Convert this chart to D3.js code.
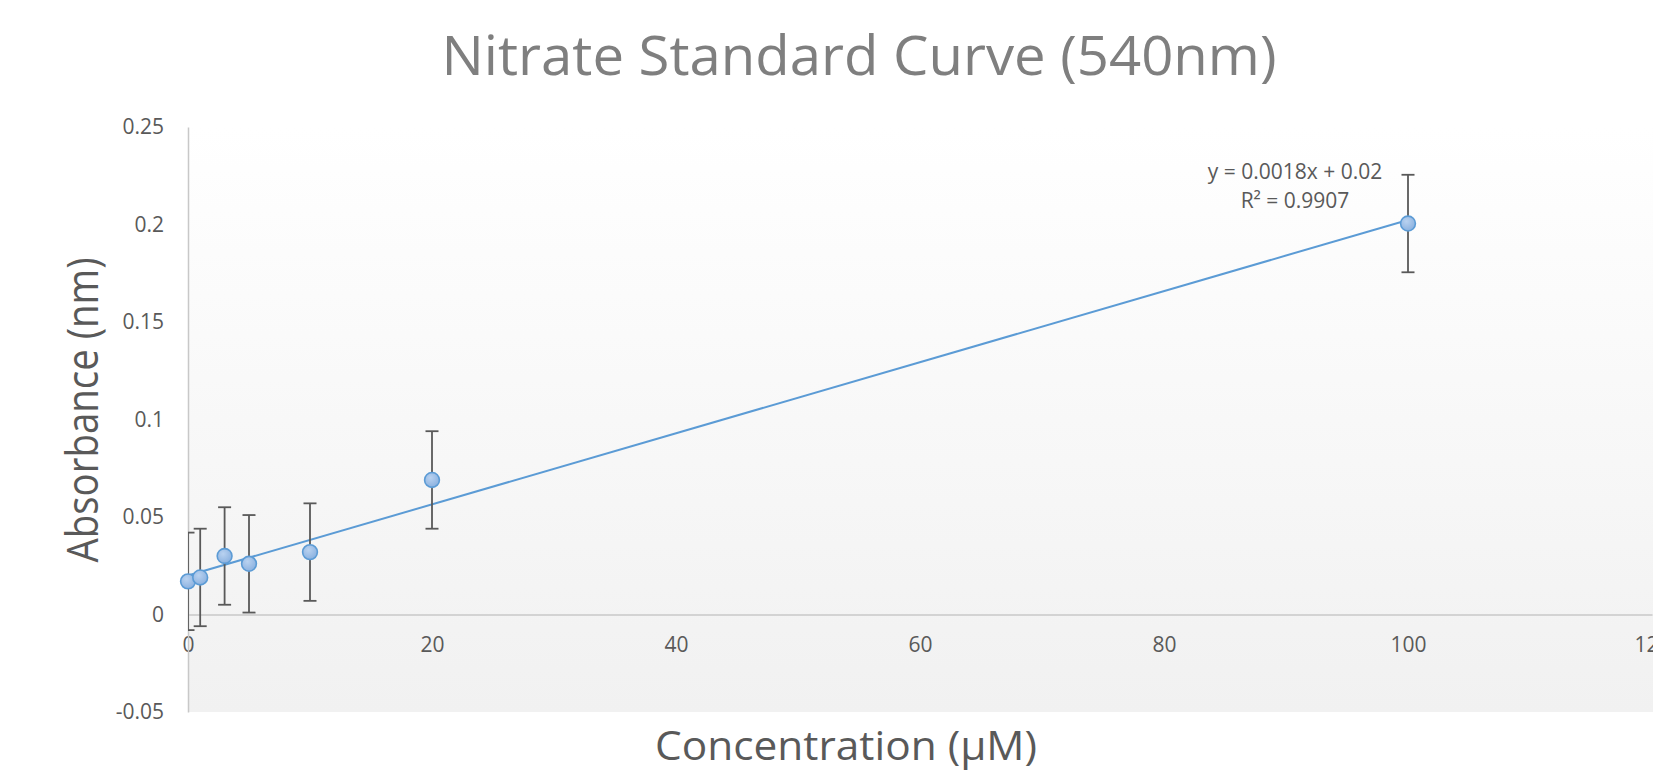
<!DOCTYPE html>
<html>
<head>
<meta charset="utf-8">
<script src="https://cdn.jsdelivr.net/npm/d3@7"></script>
<style>
	body { margin: 0; background: #ffffff; }
	text { font-family: "Open Sans", "Noto Sans", sans-serif; }
</style>
</head>
<body>
<script>
// values
var concentration = [0, 1, 3, 5, 10, 20, 100];
var absorbance = [0.017, 0.019, 0.030, 0.026, 0.032, 0.069, 0.2005];
var errorBars = [0.025, 0.025, 0.025, 0.025, 0.025, 0.025, 0.025];

var xTicks = [0, 20, 40, 60, 80, 100, 120];
var yTicks = [-0.05, 0, 0.05, 0.1, 0.15, 0.2, 0.25];
var yTickLabels = ["-0.05", "0", "0.05", "0.1", "0.15", "0.2", "0.25"];

var trendLabel = ["y = 0.0018x + 0.02", "R\u00b2 = 0.9907"];

function generateViz() {
	var width = 1653,
		height = 777;

	var svg = d3.select("body")
				.append("svg")
				.attr("width", width)
				.attr("height", height);

	var xScale = d3.scaleLinear().domain([0, 120]).range([188, 1652]);
	var yScale = d3.scaleLinear().domain([-0.05, 0.25]).range([712, 127]);

	var defs = svg.append("defs");

	// plot area fill: white at the top fading to light grey
	var bg = defs.append("linearGradient")
		.attr("id", "plotbg")
		.attr("x1", 0).attr("y1", 0)
		.attr("x2", 0).attr("y2", 1);
	bg.append("stop").attr("offset", "0%").attr("stop-color", "#ffffff");
	bg.append("stop").attr("offset", "100%").attr("stop-color", "#f1f1f1");

	var dot = defs.append("radialGradient")
		.attr("id", "dotfill")
		.attr("cx", "40%").attr("cy", "35%").attr("r", "65%");
	dot.append("stop").attr("offset", "0%").attr("stop-color", "#b9d2f0");
	dot.append("stop").attr("offset", "100%").attr("stop-color", "#8cb2e0");

	defs.append("clipPath")
		.attr("id", "plotclip")
		.append("rect")
		.attr("x", xScale(0))
		.attr("y", yScale(0.25))
		.attr("width", width - xScale(0))
		.attr("height", yScale(-0.05) - yScale(0.25));

	svg.append("rect")
		.attr("x", xScale(0))
		.attr("y", yScale(0.25))
		.attr("width", width - xScale(0))
		.attr("height", yScale(-0.05) - yScale(0.25))
		.style("fill", "url(#plotbg)");

	// axes
	var yAxis = d3.axisLeft(yScale)
		.tickValues(yTicks)
		.tickFormat(function(d, i) { return yTickLabels[i]; })
		.tickSize(0)
		.tickPadding(24);

	var xAxis = d3.axisBottom(xScale)
		.tickValues(xTicks)
		.tickSize(0)
		.tickPadding(23);

	var gx = svg.append("g")
		.attr("transform", "translate(0," + yScale(0) + ")")
		.call(xAxis);

	var gy = svg.append("g")
		.attr("transform", "translate(" + xScale(0) + ",0)")
		.call(yAxis);

	[gx, gy].forEach(function(g) {
		g.select(".domain")
			.style("stroke", "#c8c8c8")
			.style("stroke-width", 1.5);
		g.selectAll("text")
			.style("font-size", "21px")
			.style("fill", "#595959")
			.style("font-family", "'Open Sans', sans-serif");
	});

	// least squares trendline from the points
	var n = concentration.length;
	var mx = d3.mean(concentration), my = d3.mean(absorbance);
	var sxy = 0, sxx = 0;
	for (var i = 0; i < n; i++) {
		sxy += (concentration[i] - mx) * (absorbance[i] - my);
		sxx += (concentration[i] - mx) * (concentration[i] - mx);
	}
	var slope = sxy / sxx,
		intercept = my - slope * mx;
	var xMin = d3.min(concentration), xMax = d3.max(concentration);

	svg.append("line")
		.attr("x1", xScale(xMin))
		.attr("y1", yScale(intercept + slope * xMin))
		.attr("x2", xScale(xMax))
		.attr("y2", yScale(intercept + slope * xMax))
		.style("stroke", "#5b9bd5")
		.style("stroke-width", 2);

	// error bars (clipped to plot area, like the x=0 cap)
	var points = concentration.map(function(c, i) {
		return { x: c, y: absorbance[i], e: errorBars[i] };
	});

	var bars = svg.append("g")
		.attr("clip-path", "url(#plotclip)")
		.selectAll("g")
		.data(points)
		.enter()
		.append("g")
		.style("stroke", "#595959")
		.style("stroke-width", 1.8);

	bars.append("line")
		.attr("x1", function(d) { return xScale(d.x); })
		.attr("x2", function(d) { return xScale(d.x); })
		.attr("y1", function(d) { return yScale(d.y + d.e); })
		.attr("y2", function(d) { return yScale(d.y - d.e); });

	[1, -1].forEach(function(s) {
		bars.append("line")
			.attr("x1", function(d) { return xScale(d.x) - 6.5; })
			.attr("x2", function(d) { return xScale(d.x) + 6.5; })
			.attr("y1", function(d) { return yScale(d.y + s * d.e); })
			.attr("y2", function(d) { return yScale(d.y + s * d.e); });
	});

	svg.append("g")
		.selectAll("circle")
		.data(points)
		.enter()
		.append("circle")
		.attr("cx", function(d) { return xScale(d.x); })
		.attr("cy", function(d) { return yScale(d.y); })
		.attr("r", 7.4)
		.style("fill", "url(#dotfill)")
		.style("stroke", "#5b9bd5")
		.style("stroke-width", 1.6);

	// equation label
	svg.append("g")
		.selectAll("text")
		.data(trendLabel)
		.enter()
		.append("text")
		.attr("x", 1295)
		.attr("y", function(d, i) { return 179 + i * 29; })
		.attr("text-anchor", "middle")
		.style("font-size", "21px")
		.style("fill", "#595959")
		.text(function(d) { return d; });

	// titles
	svg.append("text")
		.attr("x", 859)
		.attr("y", 75)
		.attr("text-anchor", "middle")
		.attr("textLength", 835)
		.attr("lengthAdjust", "spacingAndGlyphs")
		.style("font-size", "54px")
		.style("fill", "#7f7f7f")
		.text("Nitrate Standard Curve (540nm)");

	svg.append("text")
		.attr("x", 846)
		.attr("y", 760)
		.attr("text-anchor", "middle")
		.attr("textLength", 382)
		.attr("lengthAdjust", "spacingAndGlyphs")
		.style("font-size", "40px")
		.style("fill", "#595959")
		.text("Concentration (\u00b5M)");

	svg.append("text")
		.attr("transform", "translate(98,410) rotate(-90)")
		.attr("text-anchor", "middle")
		.attr("textLength", 305)
		.attr("lengthAdjust", "spacingAndGlyphs")
		.style("font-size", "44px")
		.style("fill", "#595959")
		.text("Absorbance (nm)");
} // generateViz()

generateViz();
</script>
</body>
</html>
